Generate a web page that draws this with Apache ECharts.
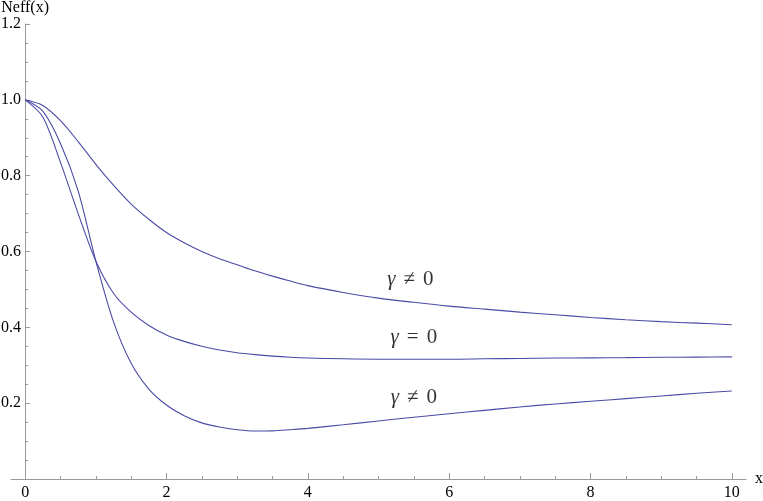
<!DOCTYPE html>
<html>
<head>
<meta charset="utf-8">
<script src="https://cdn.jsdelivr.net/npm/echarts@6/dist/echarts.min.js"></script>
<style>
  html, body { margin: 0; padding: 0; background: #fff; }
  #chart { width: 763px; height: 501px; }
</style>
</head>
<body>
<div id="chart"></div>
<script>
  // sample points
  var xs   = [0, 0.25, 0.5, 0.75, 1, 1.25, 1.5, 1.75, 2, 2.25, 2.5, 2.75, 3, 3.25, 3.5, 3.75, 4, 4.5, 5, 5.5, 6, 6.5, 7, 7.5, 8, 8.5, 9, 9.5, 10];
  var effA = [1, 0.985, 0.945, 0.89, 0.83, 0.775, 0.725, 0.685, 0.65, 0.623, 0.6, 0.581, 0.565, 0.549, 0.535, 0.522, 0.51, 0.492, 0.477, 0.466, 0.456, 0.448, 0.44, 0.433, 0.426, 0.42, 0.415, 0.411, 0.407];
  var effB = [1, 0.955, 0.835, 0.70, 0.575, 0.49, 0.44, 0.405, 0.38, 0.363, 0.35, 0.34, 0.333, 0.328, 0.324, 0.321, 0.319, 0.317, 0.316, 0.316, 0.316, 0.317, 0.318, 0.319, 0.3195, 0.32, 0.321, 0.3215, 0.322];
  var effC = [1, 0.97, 0.885, 0.76, 0.575, 0.415, 0.305, 0.237, 0.195, 0.167, 0.148, 0.137, 0.130, 0.1265, 0.127, 0.130, 0.1335, 0.143, 0.153, 0.163, 0.172, 0.181, 0.19, 0.198, 0.205, 0.212, 0.219, 0.226, 0.232];

  var xMajor = [0, 2, 4, 6, 8, 10];
  var xMinor = [0.5, 1, 1.5, 2.5, 3, 3.5, 4.5, 5, 5.5, 6.5, 7, 7.5, 8.5, 9, 9.5];

  var curveNames = ['{g|γ}{s|≠}0', '{g|γ}{s|=}0', '{g|γ}{s|≠}0'];
  var labelX = [5.45, 5.5, 5.5];
  var labelY = [0.525, 0.372, 0.214];

  function pairs(ys) {
    return xs.map(function (x, i) { return [x, ys[i]]; });
  }

  var lineColor = '#4b4ba6';
  var axisColor = '#9a9a9a';
  var serif = 'Liberation Serif';

  var chart = echarts.init(document.getElementById('chart'));

  var lineSeries = [effA, effB, effC].map(function (ys) {
    return {
      type: 'line',
      data: pairs(ys),
      smooth: 0.3,
      showSymbol: false,
      lineStyle: { color: lineColor, width: 1.1 },
      silent: true
    };
  });

  var option = {
    animation: false,
    backgroundColor: '#fff',
    grid: { left: 11, right: 17, top: 24, bottom: 22, containLabel: false, outerBoundsMode: 'none' },
    xAxis: [{
      type: 'value',
      min: -0.2,
      max: 10.2,
      name: 'x',
      nameLocation: 'end',
      nameGap: 9,
      nameTextStyle: { color: '#000', fontFamily: serif, fontSize: 16 },
      axisLine: { lineStyle: { color: axisColor, width: 1 } },
      axisTick: { inside: true, length: 6, customValues: xMajor, lineStyle: { color: axisColor } },
      axisLabel: { customValues: xMajor, color: '#000', fontFamily: serif, fontSize: 16, margin: 6 },
      splitLine: { show: false }
    }, {
      type: 'value',
      min: -0.2,
      max: 10.2,
      position: 'bottom',
      axisLine: { show: false },
      axisTick: { inside: true, length: 3, customValues: xMinor, lineStyle: { color: axisColor } },
      axisLabel: { show: false },
      splitLine: { show: false }
    }],
    yAxis: {
      type: 'value',
      min: 0,
      max: 1.2,
      interval: 0.2,
      name: 'Neff(x)',
      nameLocation: 'end',
      nameGap: 6,
      nameTextStyle: { color: '#000', fontFamily: serif, fontSize: 16, align: 'center' },
      axisLine: { show: true, onZero: true, onZeroAxisIndex: 0, lineStyle: { color: axisColor, width: 1 } },
      axisTick: { show: true, inside: true, length: 5, lineStyle: { color: axisColor } },
      minorTick: { show: true, splitNumber: 4, length: 3, lineStyle: { color: axisColor } },
      axisLabel: {
        showMinLabel: false,
        color: '#000', fontFamily: serif, fontSize: 16, margin: -10,
        formatter: function (v) { return v.toFixed(1); }
      },
      splitLine: { show: false }
    },
    series: lineSeries.concat([{
      type: 'scatter',
      silent: true,
      symbolSize: 0,
      data: labelX.map(function (x, i) { return [x, labelY[i], i]; }),
      label: {
        show: true,
        position: 'inside',
        formatter: function (p) { return curveNames[p.data[2]]; },
        color: '#000',
        fontFamily: serif,
        fontSize: 21,
        rich: {
          g: { fontStyle: 'italic', fontFamily: serif, fontSize: 21, color: '#000' },
          s: { fontFamily: serif, fontSize: 21, color: '#000', padding: [0, 8] }
        }
      }
    }])
  };

  chart.setOption(option);
</script>
</body>
</html>
